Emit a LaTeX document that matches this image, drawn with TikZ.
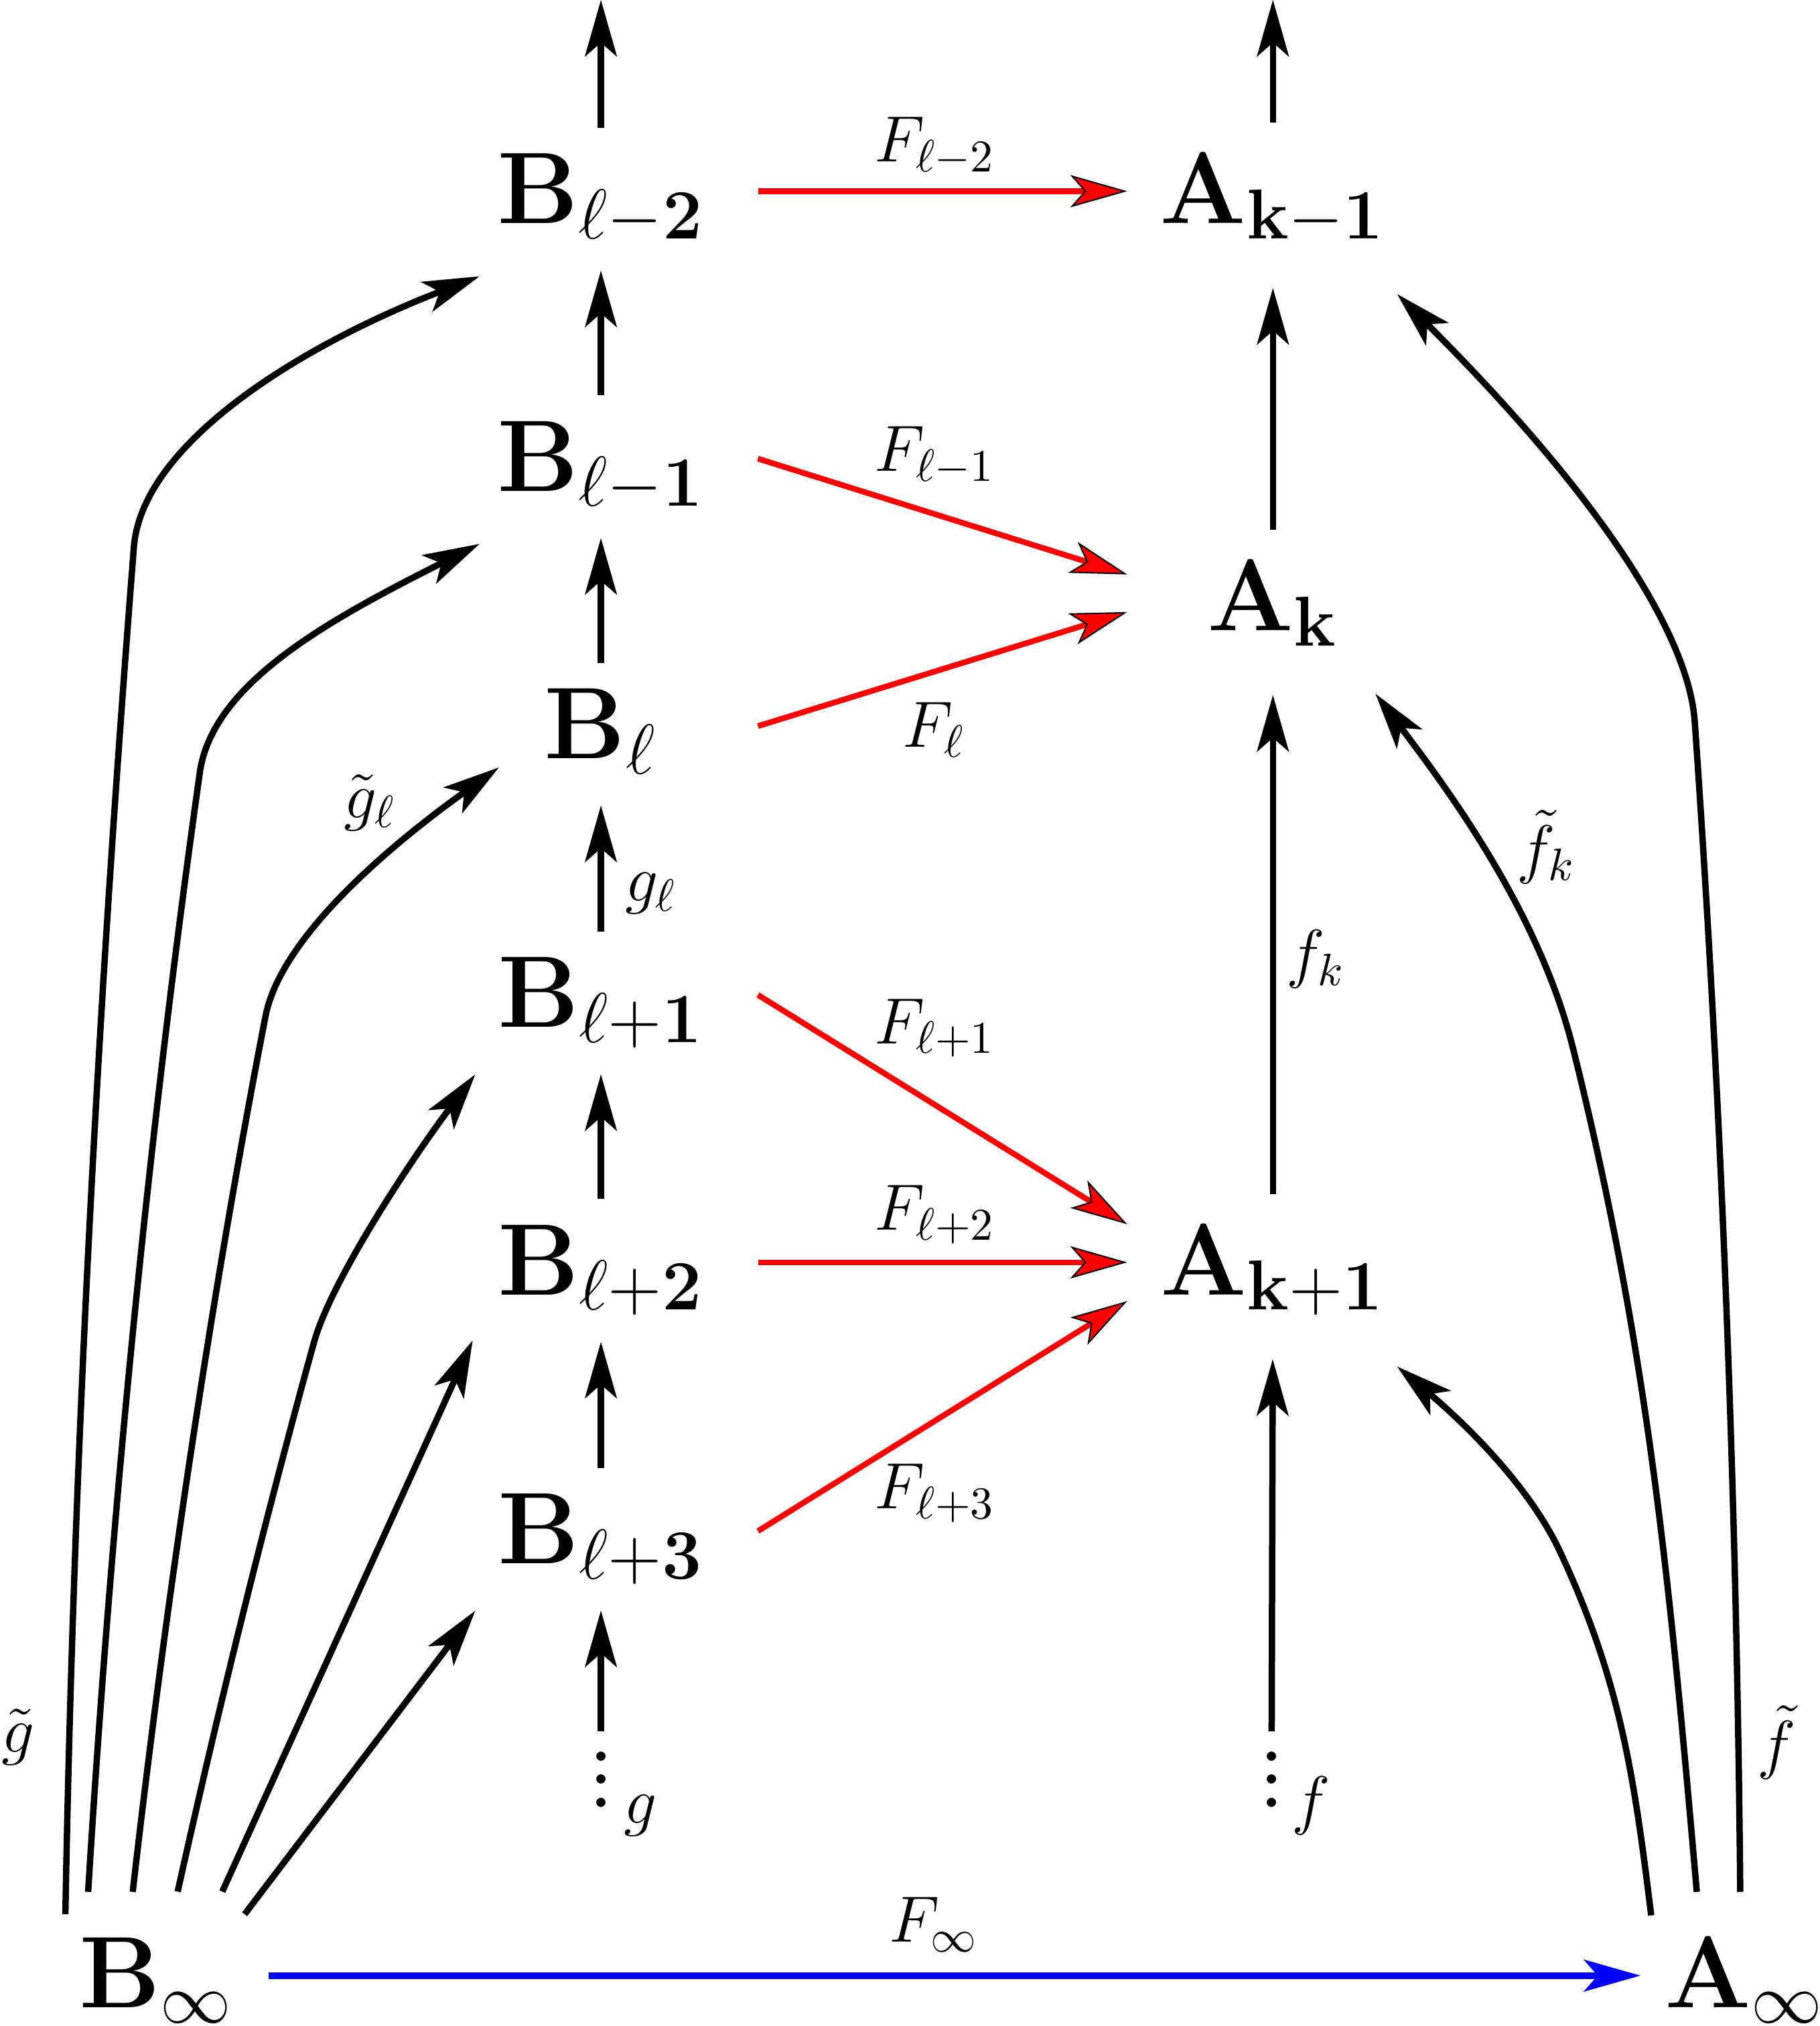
\documentclass[tikz,border=0pt]{standalone}
\usepackage{amsfonts,amssymb,amsmath}
\usepackage{xcolor}
\usetikzlibrary{arrows.meta,calc,positioning}

\newcommand{\colvdots}{\vbox{\baselineskip5.1pt\lineskiplimit0pt\hbox{.}\hbox{.}\hbox{.}}}

\begin{document}
\begin{tikzpicture}[
  objB/.style={inner sep=0pt, outer sep=0pt, anchor=base, scale=1.08, text height=0.463cm, text depth=0cm, minimum width=2.25cm, font=\huge},
  objA/.style={objB, minimum width=2.089cm},
  coldots/.style={inner sep=0pt, outer sep=0pt, anchor=north, font=\Huge},
  maplabel/.style={inner sep=0pt, outer sep=0pt, anchor=base, font=\Large},
  blk/.style={line width=1.4pt, -{Stealth[length=4.4mm,width=2.5mm,inset=1.1mm,line width=0.3pt]}},
  redmap/.style={red, line width=1.25pt, -{Stealth[length=4.4mm,width=2.5mm,inset=1.1mm,fill=red,color=black,line width=0.3pt]}},
  bluemap/.style={blue, line width=1.45pt, -{Stealth[length=4.4mm,width=2.5mm,inset=1.1mm,line width=0.3pt]}},
  upB/.style={blk, shorten <=0.24cm, shorten >=0.365cm},
  upA/.style={blk, shorten <=0.28cm, shorten >=0.5cm},
]
\useasboundingbox (0,0) rectangle (14.08,15.68);

% Marking objects B
\node[objB] (Bl2) at (4.65,13.95) {$\mathbf{B_{\ell-2}}$};%
\node[objB] (Bl1) at (4.65,11.88) {$\mathbf{B_{\ell-1}}$};%
\node[objB] (Bl) at (4.65,9.81) {$\mathbf{B_{\ell}}$};%
\node[objB] (Blp1) at (4.65,7.73) {$\mathbf{B_{\ell+1}}$};%
\node[objB] (Blp2) at (4.65,5.66) {$\mathbf{B_{\ell+2}}$};%
\node[objB] (Blp3) at (4.65,3.58) {$\mathbf{B_{\ell+3}}$};%
\node[coldots] (Bdots) at (4.65,2.124) {\colvdots};%
\node[objB, minimum width=1.606cm] (Binf) at (1.21,0.14) {$\mathbf{B_\infty}$};%

% Marking objects A
\node[objA] (Ak1) at (9.85,13.95) {$\mathbf{A_{k-1}}$};%
\node[objA] (Ak) at (9.85,10.80) {$\mathbf{A_{k}}$};%
\node[objA] (Akp1) at (9.85,5.66) {$\mathbf{A_{k+1}}$};%
\node[coldots] (Adots) at (9.84,2.124) {\colvdots};%
\node[objB, minimum width=1.494cm] (Ainf) at (13.50,0.14) {$\mathbf{A_\infty}$};%

% Free ends at the top
\coordinate (Btop) at (4.65,15.68);%
\coordinate (Atop) at (9.85,15.68);%

% Drawing maps g in the B column
\draw[blk, shorten <=0.24cm] (Bl2.north) -- (Btop);%
\draw[upB] (Bl1.north) -- (Bl2.south);%
\draw[upB] (Bl.north) -- (Bl1.south);%
\draw[upB] (Blp1.north) -- (Bl.south);%
\draw[upB] (Blp2.north) -- (Blp1.south);%
\draw[upB] (Blp3.north) -- (Blp2.south);%
\draw[blk, shorten <=0.156cm, shorten >=0.365cm] (Bdots.north) -- (Blp3.south);%

% Drawing maps f in the A column
\draw[blk, shorten <=0.28cm] (Ak1.north) -- (Atop);%
\draw[upA] (Ak.north) -- (Ak1.south);%
\draw[upA] (Akp1.north) -- (Ak.south);%
\draw[blk, shorten <=0.156cm, shorten >=0.5cm] (Adots.north) -- (Akp1.south);%

% Drawing maps F
\draw[redmap] (Bl2.east) -- (Ak1.west);%
\draw[redmap] (Bl1.east) -- ($(Ak.west)+(0,0.184)$);%
\draw[redmap] (Bl.east) -- ($(Ak.west)+(0,-0.107)$);%
\draw[redmap] (Blp1.east) -- ($(Akp1.west)+(0,0.295)$);%
\draw[redmap] (Blp2.east) -- (Akp1.west);%
\draw[redmap] (Blp3.east) -- ($(Akp1.west)+(0,-0.30)$);%
\draw[bluemap] (Binf.east) -- (Ainf.west);%

% Drawing maps tilde g
\draw[blk] ($(Binf.north)+(-0.704,0.225)$) .. controls +(89:3.5) and +(265.5:3.5) .. (1.036,11.446)
  .. controls +(85.5:0.8) and +(201.2:1.5) .. ($(Bl2.south)+(-0.94,-0.409)$);%
\draw[blk] ($(Binf.north)+(-0.528,0.398)$) .. controls +(86.5:2.9) and +(262:2.9) .. (1.546,9.70)
  .. controls +(82:0.7) and +(206.8:1.3) .. ($(Bl1.south)+(-0.94,-0.41)$);%
\draw[blk] ($(Binf.north)+(-0.183,0.398)$) .. controls +(83.5:2.2) and +(259:2.2) .. (2.055,7.817)
  .. controls +(79:0.6) and +(215.6:1.1) .. ($(Bl.south)+(-0.79,-0.07)$);%
\draw[blk] ($(Binf.north)+(0.165,0.40)$) .. controls +(77.5:1.4) and +(254.5:1.4) .. (2.43,5.292)
  .. controls +(74.5:0.5) and +(233:0.8) .. ($(Blp1.south)+(-0.973,-0.366)$);%
\draw[blk] ($(Binf.north)+(0.51,0.40)$) -- ($(Blp2.south)+(-0.993,-0.355)$);%
\draw[blk] ($(Binf.north)+(0.683,0.225)$) -- ($(Blp3.south)+(-0.973,-0.367)$);%

% Drawing maps tilde f
\draw[blk] ($(Ainf.north)+(-0.723,0.216)$) .. controls +(97:1.1) and +(295:1.1) .. (12.072,3.67)
  .. controls +(115:0.6) and +(320:0.6) .. ($(Akp1.south)+(0.962,-0.557)$);%
\draw[blk] ($(Ainf.north)+(-0.37,0.398)$) .. controls +(95:2.4) and +(284:2.4) .. (12.172,7.567)
  .. controls +(104:1.1) and +(307:0.9) .. ($(Ak.south)+(0.794,-0.49)$);%
\draw[blk] ($(Ainf.north)+(-0.034,0.398)$) .. controls +(90.5:3) and +(274:3) .. (13.114,10.096)
  .. controls +(94:0.6) and +(315:2.4) .. ($(Ak1.south)+(0.962,-0.547)$);%

% Marking labels F
\node[maplabel] (lFm2) at (7.235,14.426) {$F_{\ell-2}$};%
\node[maplabel] (lFm1) at (7.235,12.033) {$F_{\ell-1}$};%
\node[maplabel] (lF) at (7.226,9.896) {$F_{\ell}$};%
\node[maplabel] (lFp1) at (7.236,7.604) {$F_{\ell+1}$};%
\node[maplabel] (lFp2) at (7.236,6.16) {$F_{\ell+2}$};%
\node[maplabel] (lFp3) at (7.236,4.003) {$F_{\ell+3}$};%
\node[maplabel] (lFinf) at (7.225,0.65) {$F_\infty$};%

% Marking labels g and f
\node[maplabel, anchor=base west] (lgl) at (4.837,8.703) {$g_\ell$};%
\node[maplabel] (ltgl) at (2.864,9.35) {$\tilde g_\ell$};%
\node[maplabel, anchor=base west] (lg) at (4.83,1.57) {$g$};%
\node[maplabel, anchor=base west] (ltg) at (0.015,2.115) {$\tilde g$};%
\node[maplabel, anchor=base west] (lfk) at (9.954,8.13) {$f_k$};%
\node[maplabel, anchor=base west] (ltfk) at (11.736,8.94) {$\tilde f_k$};%
\node[maplabel, anchor=base west] (lf) at (9.995,1.58) {$f$};%
\node[maplabel, anchor=base west] (ltf) at (13.60,2.01) {$\tilde f$};%
\end{tikzpicture}
\end{document}
